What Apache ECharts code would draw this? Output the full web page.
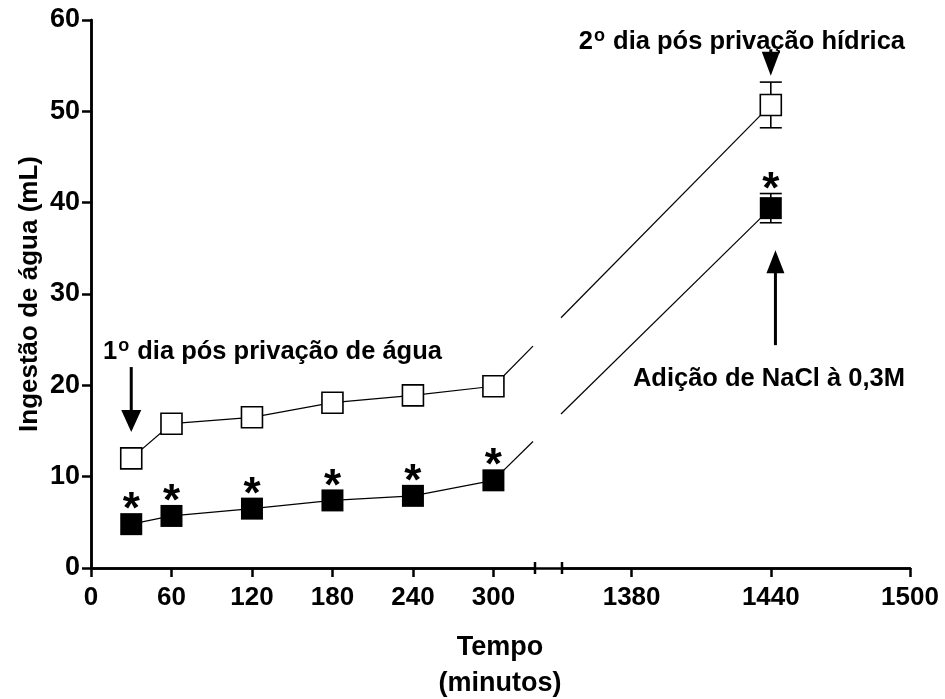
<!DOCTYPE html>
<html>
<head>
<meta charset="utf-8">
<script src="https://cdn.jsdelivr.net/npm/echarts@6/dist/echarts.min.js"></script>
<style>
  html, body { margin: 0; padding: 0; background: #ffffff; }
  #chart { width: 945px; height: 699px; }
</style>
</head>
<body>
<div id="chart"></div>
<script>
// Water intake (mL) over time (minutes), first day (0-300 min) and second day (1440 min)
const timesEarly = [30, 60, 120, 180, 240, 300];
const controlEarly = [12.0, 15.8, 16.5, 18.1, 18.9, 19.9];
const saltEarly = [4.8, 5.7, 6.5, 7.4, 7.9, 9.6];
const timeLate = 1440;
const controlLate = 50.7;
const controlLateErr = 2.5;
const saltLate = 39.4;
const saltLateErr = 1.6;

const yTicks = [0, 10, 20, 30, 40, 50, 60];
const xTicksEarly = [0, 60, 120, 180, 240, 300];
const xTicksLate = [1380, 1440, 1500];

const FONT = '"Liberation Sans", Arial, Helvetica, sans-serif';
const INK = '#000000';

const earlyRange = [0, 331];
const lateRange = [1350, 1500];

const controlEarlyData = timesEarly.map((t, i) => [t, controlEarly[i]]);
const saltEarlyData = timesEarly.map((t, i) => [t, saltEarly[i]]);

const axisLineStyle = { color: INK, width: 2.5 };
const plain = (v) => String(v);

function xAxisBase(grid, range, ticks) {
  return {
    type: 'value', gridIndex: grid, min: range[0], max: range[1],
    axisLine: { show: true, onZero: false, lineStyle: axisLineStyle },
    axisTick: { show: true, length: 9, lineStyle: axisLineStyle, customValues: ticks },
    axisLabel: { show: true, customValues: ticks, formatter: plain, color: INK, fontFamily: FONT,
                 fontSize: 26, fontWeight: 'bold', margin: 17 },
    splitLine: { show: false }
  };
}

const starLabel = (offset) => ({
  show: true, position: 'inside', offset: offset, formatter: '*',
  color: INK, fontFamily: FONT, fontWeight: 'bold', fontSize: 44
});

const option = {
  animation: false,
  backgroundColor: '#ffffff',
  grid: [
    { left: 91, top: 20, width: 444, height: 548 },
    { left: 562, top: 20, width: 348, height: 548 },
    { left: 91, top: 20, width: 819, height: 548 }
  ],
  xAxis: [
    xAxisBase(0, earlyRange, xTicksEarly),
    xAxisBase(1, lateRange, xTicksLate),
    { type: 'value', gridIndex: 2, position: 'top', min: 0, max: 1,
      axisLine: { show: true, lineStyle: axisLineStyle },
      axisTick: { show: false }, axisLabel: { show: false }, splitLine: { show: false } }
  ],
  yAxis: [
    { type: 'value', gridIndex: 0, min: 0, max: 60, interval: 10,
      name: 'Ingestão de água (mL)', nameLocation: 'middle', nameGap: 48, nameRotate: 90,
      nameTextStyle: { color: INK, fontFamily: FONT, fontSize: 26, fontWeight: 'bold' },
      axisLine: { show: true, lineStyle: axisLineStyle },
      axisTick: { show: true, length: 9, lineStyle: axisLineStyle },
      axisLabel: { color: INK, fontFamily: FONT, fontSize: 27, fontWeight: 'bold', margin: 11, formatter: plain },
      splitLine: { show: false } },
    { type: 'value', gridIndex: 1, min: 0, max: 60, show: false, splitLine: { show: false } },
    { type: 'value', gridIndex: 2, position: 'right', min: 0, max: 1,
      axisLine: { show: true, lineStyle: axisLineStyle },
      axisTick: { show: false }, axisLabel: { show: false }, splitLine: { show: false } }
  ],
  series: [
    { name: 'controle', type: 'line', xAxisIndex: 0, yAxisIndex: 0, data: controlEarlyData,
      symbol: 'rect', symbolSize: 21, z: 4,
      lineStyle: { color: INK, width: 1.2 },
      itemStyle: { color: '#ffffff', borderColor: INK, borderWidth: 1.6, opacity: 1 } },
    { name: 'NaCl', type: 'line', xAxisIndex: 0, yAxisIndex: 0, data: saltEarlyData,
      symbol: 'rect', symbolSize: 22, z: 4,
      lineStyle: { color: INK, width: 1.2 },
      itemStyle: { color: INK, borderColor: INK, borderWidth: 0, opacity: 1 },
      label: starLabel([0, -13]) },
    // error bars at 1440 min
    { name: 'erro', type: 'custom', xAxisIndex: 1, yAxisIndex: 1, z: 3,
      data: [[timeLate, controlLate, controlLateErr], [timeLate, saltLate, saltLateErr]],
      renderItem: function (params, api) {
        const x = api.value(0), m = api.value(1), e = api.value(2);
        const top = api.coord([x, m + e]);
        const bot = api.coord([x, m - e]);
        const hw = 11;
        const st = { stroke: INK, lineWidth: 1.6, fill: null };
        return { type: 'group', children: [
          { type: 'line', shape: { x1: top[0], y1: top[1], x2: bot[0], y2: bot[1] }, style: st },
          { type: 'line', shape: { x1: top[0] - hw, y1: top[1], x2: top[0] + hw, y2: top[1] }, style: st },
          { type: 'line', shape: { x1: bot[0] - hw, y1: bot[1], x2: bot[0] + hw, y2: bot[1] }, style: st }
        ]};
      } },
    { name: 'controle 2', type: 'scatter', xAxisIndex: 1, yAxisIndex: 1, z: 4,
      data: [[timeLate, controlLate]], symbol: 'rect', symbolSize: 21,
      itemStyle: { color: '#ffffff', borderColor: INK, borderWidth: 1.6, opacity: 1 } },
    { name: 'NaCl 2', type: 'scatter', xAxisIndex: 1, yAxisIndex: 1, z: 4,
      data: [[timeLate, saltLate]], symbol: 'rect', symbolSize: 22,
      itemStyle: { color: INK, opacity: 1 },
      label: starLabel([0, -17]) }
  ]
};

const chart = echarts.init(document.getElementById('chart'));
chart.setOption(option);

// Screen-space connections across the axis break, plus annotations
function px(grid, pt) { return chart.convertToPixel({ gridIndex: grid }, pt); }

const xLeftEnd = px(0, [earlyRange[1], 0])[0];
const xRightStart = px(1, [lateRange[0], 0])[0];
const yBase = px(0, [0, 0])[1];

function bridge(vEarly, vLate) {
  const a = px(0, [timesEarly[timesEarly.length - 1], vEarly]);
  const b = px(1, [timeLate, vLate]);
  const slope = (b[1] - a[1]) / (b[0] - a[0]);
  const yAt = (x) => a[1] + (x - a[0]) * slope;
  const st = { stroke: INK, lineWidth: 1.2 };
  const x1 = xLeftEnd - 2, x2 = xRightStart - 1;
  return [
    { type: 'line', z: 1, shape: { x1: a[0], y1: a[1], x2: x1, y2: yAt(x1) }, style: st },
    { type: 'line', z: 1, shape: { x1: x2, y1: yAt(x2), x2: b[0], y2: b[1] }, style: st }
  ];
}

function cap(x) {
  return { type: 'line', z: 5, shape: { x1: x, y1: yBase - 6, x2: x, y2: yBase + 6 },
           style: { stroke: INK, lineWidth: 2.5 } };
}

function arrowDown(x, yFrom, yTip, hw, hh) {
  const els = [];
  if (yTip - hh > yFrom) {
    els.push({ type: 'line', z: 5, shape: { x1: x, y1: yFrom, x2: x, y2: yTip - hh + 2 },
               style: { stroke: INK, lineWidth: 3 } });
  }
  els.push({ type: 'polygon', z: 5, shape: { points: [[x - hw, yTip - hh], [x + hw, yTip - hh], [x, yTip]] },
             style: { fill: INK } });
  return els;
}
function arrowUp(x, yFrom, yTip, hw, hh) {
  return [
    { type: 'line', z: 5, shape: { x1: x, y1: yFrom, x2: x, y2: yTip + hh - 2 },
      style: { stroke: INK, lineWidth: 3 } },
    { type: 'polygon', z: 5, shape: { points: [[x - hw, yTip + hh], [x + hw, yTip + hh], [x, yTip]] },
      style: { fill: INK } }
  ];
}

// Bold annotation with an ordinal superscript "o" after the leading digit
const ANN_SIZE = 25.5;
const SUP_SIZE = 18;
const measureCtx = document.createElement('canvas').getContext('2d');
function textWidth(str, size) {
  measureCtx.font = 'bold ' + size + 'px ' + FONT;
  return measureCtx.measureText(str).width;
}
function ordinalNote(digit, rest, x, yMid, align) {
  const wD = textWidth(digit, ANN_SIZE);
  const wS = textWidth('o', SUP_SIZE) + 2;
  const wR = textWidth(rest, ANN_SIZE);
  const x0 = align === 'right' ? x - (wD + wS + wR) : x;
  const base = { fontFamily: FONT, fontWeight: 'bold', fill: INK, align: 'left', verticalAlign: 'middle' };
  return [
    { type: 'text', z: 6, style: Object.assign({ x: x0, y: yMid, text: digit, fontSize: ANN_SIZE }, base) },
    { type: 'text', z: 6, style: Object.assign({ x: x0 + wD + 1, y: yMid - 6, text: 'o', fontSize: SUP_SIZE }, base) },
    { type: 'text', z: 6, style: Object.assign({ x: x0 + wD + wS, y: yMid, text: rest, fontSize: ANN_SIZE }, base) }
  ];
}

const p30 = px(0, [timesEarly[0], 0]);
const p1440 = px(1, [timeLate, 0]);
const yPx = (v) => px(0, [0, v])[1];
const xRightEdge = px(2, [1, 0])[0];

const graphics = []
  .concat(bridge(controlEarly[5], controlLate))
  .concat(bridge(saltEarly[5], saltLate))
  .concat([cap(xLeftEnd), cap(xRightStart)])
  .concat(arrowDown(p30[0], yPx(22.0), yPx(14.9), 10, 22))
  .concat(arrowDown(p1440[0], yPx(56.8), yPx(53.9), 9, 24))
  .concat(arrowUp(px(1, [1442, 0])[0], yPx(24.4), yPx(34.8), 9, 23))
  .concat(ordinalNote('1', ' dia pós privação de água', 103, yPx(23.6), 'left'))
  .concat(ordinalNote('2', ' dia pós privação hídrica', xRightEdge - 5, yPx(57.6), 'right'))
  .concat([
    { type: 'text', z: 6, style: { x: xRightEdge - 5, y: yPx(20.7), text: 'Adição de NaCl à 0,3M',
        fontFamily: FONT, fontWeight: 'bold', fontSize: ANN_SIZE, fill: INK, align: 'right', verticalAlign: 'middle' } },
    { type: 'text', z: 6, style: { x: 500, y: 630, text: 'Tempo\n(minutos)', lineHeight: 36,
        fontFamily: FONT, fontSize: 27, fontWeight: 'bold', fill: INK, align: 'center', verticalAlign: 'top' } }
  ]);

chart.setOption({ graphic: { elements: graphics } });
</script>
</body>
</html>
